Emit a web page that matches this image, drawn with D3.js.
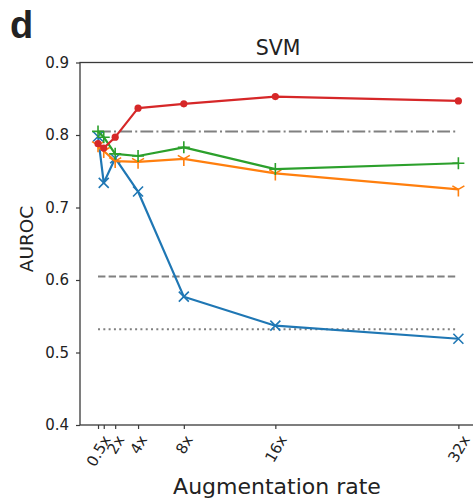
<!DOCTYPE html>
<html>
<head>
<meta charset="utf-8">
<script src="https://cdn.jsdelivr.net/npm/d3@7"></script>
<style>
  body { margin: 0; background: #fff; }
  text { font-family: "DejaVu Sans", sans-serif; fill: #222; }
</style>
</head>
<body>
<div class="container"><div id="chart"></div></div>
<script>
// data
var rates = [0.5, 1, 2, 4, 8, 16, 32];
// the 1x tick has a mark but its label is not readable in the picture
var rateLabels = ["0.5x", "", "2x", "4x", "8x", "16x", "32x"];
var yTicks = [0.4, 0.5, 0.6, 0.7, 0.8, 0.9];

var blueX = [0.798, 0.734, 0.768, 0.722, 0.577, 0.537, 0.519];
var orangeTri = [0.786, 0.778, 0.764, 0.763, 0.767, 0.747, 0.725];
var greenPlus = [0.805, 0.797, 0.774, 0.771, 0.783, 0.753, 0.761];
var redDot = [0.788, 0.782, 0.797, 0.837, 0.843, 0.853, 0.847];

// gray reference lines (dashdot, dashed, dotted)
var baseDashDot = 0.805;
var baseDashed = 0.605;
var baseDotted = 0.532;

var svgWidth = 473;
var svgHeight = 502;
var svg;
var xScale;
var yScale;

function PlaceSVG() {
    svg = d3.select("#chart")
      .append("svg")
      .attr("width", svgWidth)
      .attr("height", svgHeight);
};

function MarkerPath(kind) {
    // small path strings drawn round (0,0)
    if (kind == "plus") return "M-6,0H6M0,-6V6";
    if (kind == "x") return "M-5,-5L5,5M-5,5L5,-5";
    if (kind == "tri") return "M0,0V7M0,0L-6,-3.5M0,0L6,-3.5";
    return "";
};

function CreatePlot() {
    // Step 1: scales (x area runs past the right edge, as in the picture)
    xScale = d3.scaleLinear()
      .domain([-1.075, 33.575])
      .range([80, 476.4]);

    yScale = d3.scaleLinear()
      .domain([0.4, 0.9])
      .range([425, 62.5]);

    // Step 2: reference lines
    var refs = [
      { v: baseDashDot, dash: "12.8,3.2,2,3.2" },
      { v: baseDashed, dash: "7.4,3.2" },
      { v: baseDotted, dash: "2,3.3" }
    ];
    svg.selectAll(".ref")
      .data(refs)
      .enter()
      .append("line")
      .attr("class", "ref")
      .attr("x1", xScale(rates[0]))
      .attr("x2", xScale(rates[rates.length - 1]))
      .attr("y1", d => yScale(d.v))
      .attr("y2", d => yScale(d.v))
      .attr("stroke", "#808080")
      .attr("stroke-width", 2)
      .attr("stroke-dasharray", d => d.dash);

    // Step 3: series
    var series = [
      { vals: blueX, color: "#1f77b4", marker: "x" },
      { vals: orangeTri, color: "#ff7f0e", marker: "tri" },
      { vals: greenPlus, color: "#2ca02c", marker: "plus" },
      { vals: redDot, color: "#d62728", marker: "dot" }
    ];

    var line = d3.line()
      .x((d, i) => xScale(rates[i]))
      .y(d => yScale(d));

    series.forEach(function(s) {
        var g = svg.append("g");
        g.append("path")
          .datum(s.vals)
          .attr("d", line)
          .attr("fill", "none")
          .attr("stroke", s.color)
          .attr("stroke-width", 2.2)
          .attr("stroke-linejoin", "round");

        if (s.marker == "dot") {
            g.selectAll("circle")
              .data(s.vals)
              .enter()
              .append("circle")
              .attr("cx", (d, i) => xScale(rates[i]))
              .attr("cy", d => yScale(d))
              .attr("r", 3.6)
              .attr("fill", s.color);
        } else {
            g.selectAll(".mk")
              .data(s.vals)
              .enter()
              .append("path")
              .attr("class", "mk")
              .attr("transform", (d, i) => `translate(${xScale(rates[i])}, ${yScale(d)})`)
              .attr("d", MarkerPath(s.marker))
              .attr("fill", "none")
              .attr("stroke", s.color)
              .attr("stroke-width", 1.6);
        }
    });

    // Step 4: frame and axes
    svg.append("rect")
      .attr("x", 80)
      .attr("y", 62.5)
      .attr("width", 396.4)
      .attr("height", 362.5)
      .attr("fill", "none")
      .attr("stroke", "#3a3a3a")
      .attr("stroke-width", 1.3);

    var yAxis = d3.axisLeft(yScale)
      .tickValues(yTicks)
      .tickFormat(d3.format(".1f"))
      .tickSize(4)
      .tickPadding(7);

    var gy = svg.append("g")
      .attr("transform", "translate(80, 0)")
      .call(yAxis);
    gy.select(".domain").remove();
    gy.selectAll(".tick line").attr("stroke", "#3a3a3a").attr("stroke-width", 1.2);
    gy.selectAll(".tick text")
      .style("font-size", "15px")
      .style("font-family", "DejaVu Sans")
      .attr("fill", "#222");

    var xAxis = d3.axisBottom(xScale)
      .tickValues(rates)
      .tickFormat((d, i) => rateLabels[i])
      .tickSize(4);

    var gx = svg.append("g")
      .attr("transform", "translate(0, 425)")
      .call(xAxis);
    gx.select(".domain").remove();
    gx.selectAll(".tick line").attr("stroke", "#3a3a3a").attr("stroke-width", 1.2);
    gx.selectAll(".tick text")
      .style("font-size", "15px")
      .style("font-family", "DejaVu Sans")
      .attr("fill", "#222")
      .attr("text-anchor", "middle")
      .attr("dy", "0.35em")
      .attr("x", 0)
      .attr("y", 0)
      .attr("transform", function() {
          // rotated 60 deg, centred under the tick like matplotlib does
          var L = this.getComputedTextLength();
          var half = (L * 0.866 + 11 * 0.5) / 2;
          return `translate(0, ${9 + half}) rotate(-60)`;
      });

    // Step 5: labels
    svg.append("text")
      .attr("x", 278)
      .attr("y", 55)
      .attr("text-anchor", "middle")
      .style("font-size", "20.5px")
      .text("SVM");

    svg.append("text")
      .attr("x", 277)
      .attr("y", 494)
      .attr("text-anchor", "middle")
      .style("font-size", "22px")
      .text("Augmentation rate");

    svg.append("text")
      .attr("transform", "translate(33, 239) rotate(-90)")
      .attr("text-anchor", "middle")
      .style("font-size", "18.5px")
      .text("AUROC");

    svg.append("text")
      .attr("x", 10)
      .attr("y", 38)
      .style("font-family", "Liberation Sans, Arial, sans-serif")
      .style("font-weight", "bold")
      .style("font-size", "38px")
      .attr("fill", "#000")
      .text("d");
};

PlaceSVG();
CreatePlot();
</script>
</body>
</html>
